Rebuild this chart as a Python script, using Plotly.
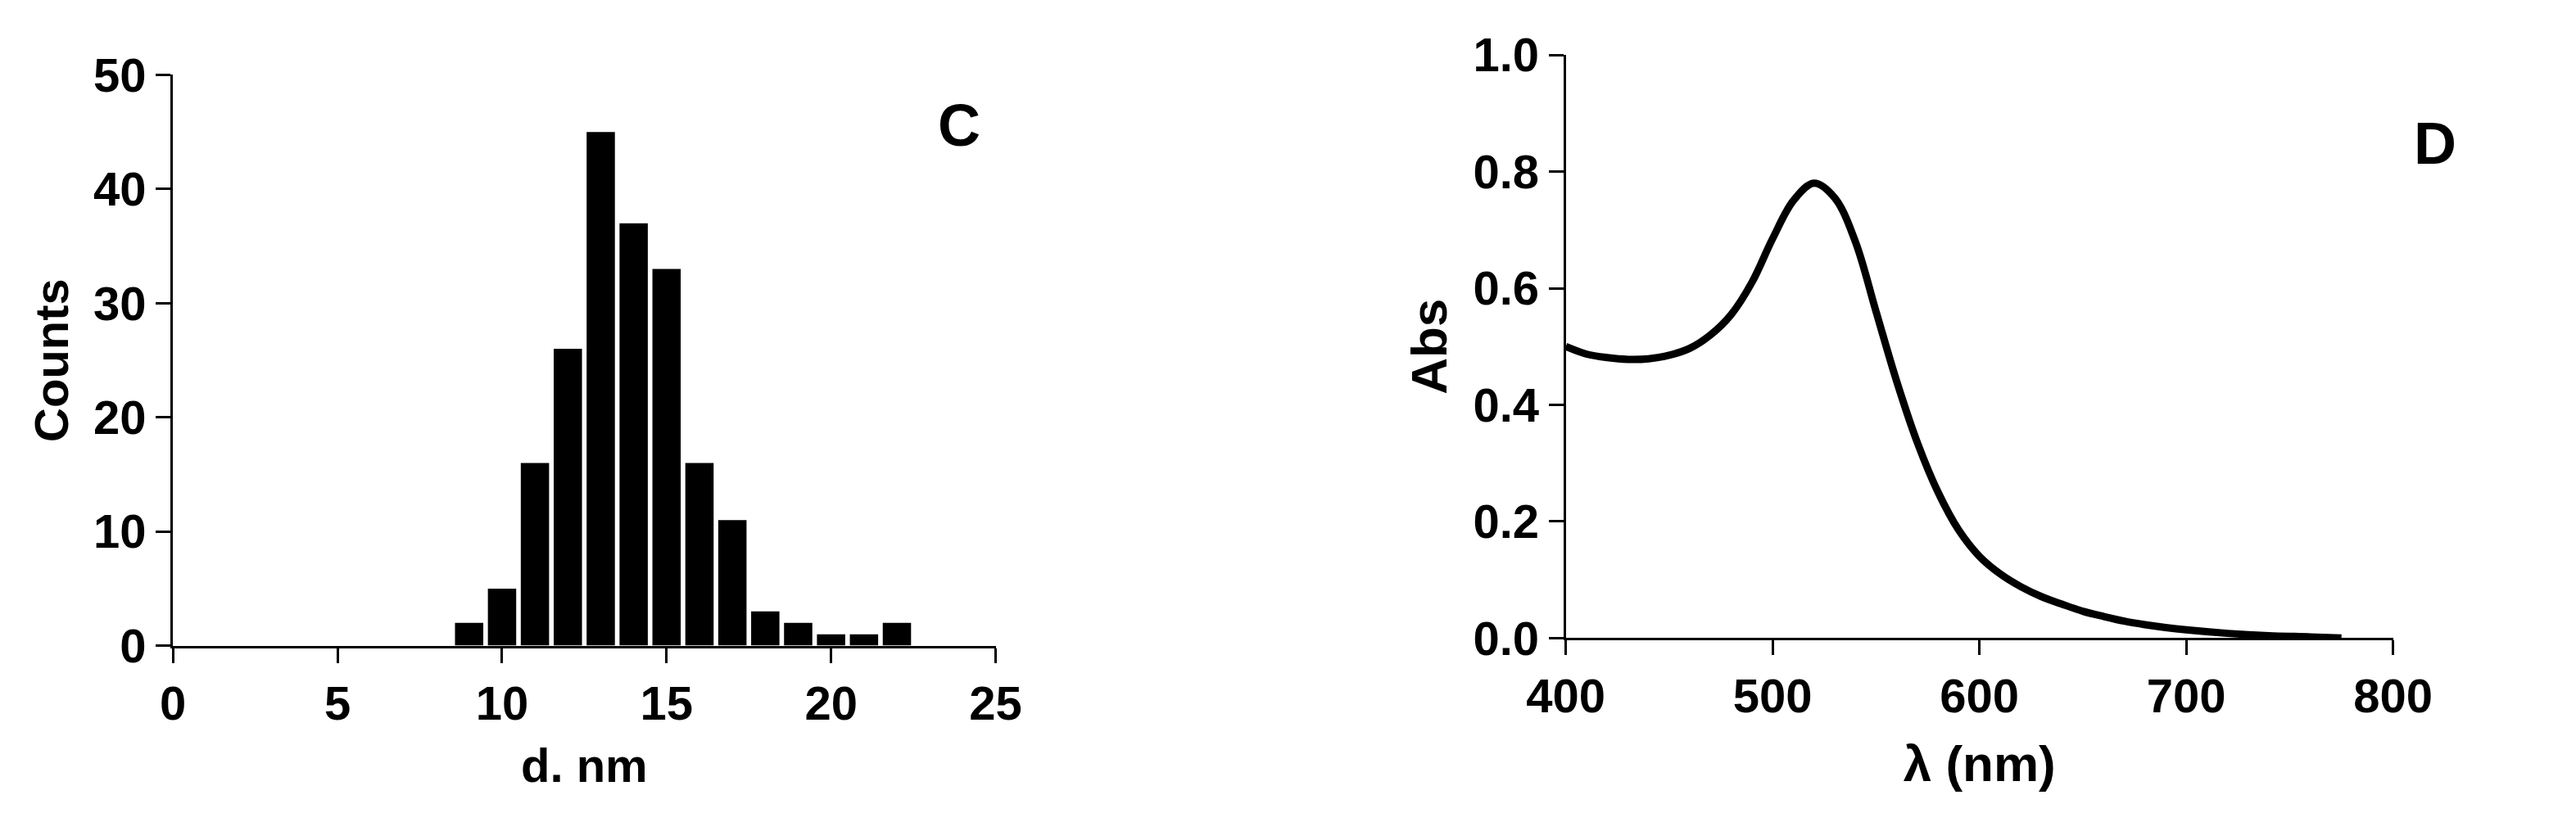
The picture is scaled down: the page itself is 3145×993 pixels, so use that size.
import plotly.graph_objects as go

# Panel C histogram
diam = [9, 10, 11, 12, 13, 14, 15, 16, 17, 18, 19, 20, 21, 22]
counts = [2, 5, 16, 26, 45, 37, 33, 16, 11, 3, 2, 1, 1, 2]

# Panel D spectrum
wl = [400, 410, 420, 430, 440, 450, 460, 470, 480, 490, 500, 510, 520, 530, 540, 550,
      560, 570, 580, 590, 600, 610, 620, 630, 640, 650, 660, 670, 680, 690, 700, 720,
      740, 760, 775]
absv = [0.50, 0.487, 0.481, 0.478, 0.479, 0.485, 0.497, 0.52, 0.555, 0.61, 0.685, 0.75,
        0.78, 0.755, 0.68, 0.56, 0.44, 0.335, 0.25, 0.185, 0.14, 0.11, 0.088, 0.071,
        0.058, 0.046, 0.037, 0.029, 0.023, 0.018, 0.014, 0.008, 0.004, 0.002, 0.0]

FONT = "Liberation Sans"
fig = go.Figure()
fig.add_trace(go.Bar(x=diam, y=counts, width=0.86, marker=dict(color="black", line=dict(width=0)),
                     xaxis="x", yaxis="y", showlegend=False))
fig.add_trace(go.Scatter(x=wl, y=absv, mode="lines", line=dict(color="black", width=9, shape="spline", smoothing=1.0),
                         xaxis="x2", yaxis="y2", showlegend=False))

tick = dict(family=FONT, size=58, color="black", weight="bold")
ax = dict(showgrid=False, zeroline=False, showline=True, linecolor="black", linewidth=3,
          ticks="outside", ticklen=18, tickwidth=3, tickcolor="black", tickfont=tick)
tf = dict(family=FONT, size=58, color="black", weight="bold")

fig.update_layout(
    width=3145, height=993, margin=dict(l=0, r=0, t=0, b=0),
    plot_bgcolor="white", paper_bgcolor="white",
    xaxis=dict(ax, domain=[0.0509, 0.3803], range=[0, 25], tickvals=[0, 5, 10, 15, 20, 25],
               anchor="y", title=dict(text="d. nm", font=tf, standoff=25)),
    yaxis=dict(ax, domain=[0.1944, 0.9456], range=[0, 50], tickvals=[0, 10, 20, 30, 40, 50],
               anchor="x", title=dict(text="Counts", font=tf, standoff=12)),
    xaxis2=dict(ax, domain=[0.6086, 0.9399], range=[400, 800], tickvals=[400, 500, 600, 700, 800],
                anchor="y2", title=dict(text="λ (nm)", font=dict(tf, size=62), standoff=30)),
    yaxis2=dict(ax, domain=[0.2044, 0.9718], range=[0, 1.0], tickvals=[0, 0.2, 0.4, 0.6, 0.8, 1.0],
                tickformat=".1f", anchor="x2", title=dict(text="Abs", font=dict(tf, size=62), standoff=12)),
    font=dict(family=FONT, color="black"),
)

fig.add_annotation(text="<b>C</b>", xref="paper", yref="paper", x=1150/3145, y=1-75/993,
                   showarrow=False, font=dict(family=FONT, size=72, color="black"))
fig.add_annotation(text="<b>D</b>", xref="paper", yref="paper", x=3038/3145, y=1-98/993,
                   showarrow=False, font=dict(family=FONT, size=72, color="black"))

fig.write_html("out.html")
